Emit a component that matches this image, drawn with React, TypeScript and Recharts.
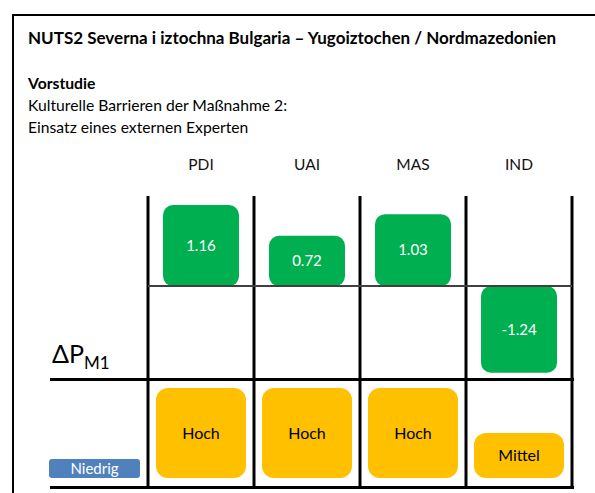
import React from "react";
import { BarChart, Bar, XAxis, YAxis, CartesianGrid, ReferenceLine, LabelList } from "recharts";

const dimensions = ["PDI", "UAI", "MAS", "IND"];
const deltaValues = [1.16, 0.72, 1.03, -1.24];
const barrierLabels = ["Hoch", "Hoch", "Hoch", "Mittel"];
const levelScore: Record<string, number> = { Niedrig: 1, Mittel: 2, Hoch: 4 };

const deltaData = dimensions.map((name, i) => ({ name, value: deltaValues[i] }));
const barrierData = dimensions.map((name, i) => ({
	name,
	level: levelScore[barrierLabels[i]],
	label: barrierLabels[i],
}));

const font = "Lato, 'Open Sans', sans-serif";
const green = "#00B050";
const orange = "#FFC000";

// vertical table lines sit on the band edges, not on the tick centres
const bandEdges = ({ offset }: any) => [0, 1, 2, 3, 4].map((i) => offset.left + (i * offset.width) / 4);

const line = (top: number, left: number, width: number, height: number, color = "#000") => (
	<div style={{ position: "absolute", top, left, width, height, background: color }} />
);

export default function App() {
	return (
		<div style={{ position: "absolute", left: 0, top: 0, width: 595, height: 493, background: "#fff", overflow: "hidden", fontFamily: font, color: "#000" }}>
			<div style={{ position: "absolute", left: 12, top: 14, width: 640, height: 520, borderLeft: "2px solid #000", borderTop: "2px solid #000" }} />
			<div style={{ position: "absolute", left: 28, top: 27, fontSize: 17, fontWeight: 700, lineHeight: "22px", whiteSpace: "nowrap" }}>
				NUTS2 Severna i iztochna Bulgaria – Yugoiztochen / Nordmazedonien
			</div>
			<div style={{ position: "absolute", left: 28, top: 72, fontSize: 15.7, lineHeight: "22px", whiteSpace: "nowrap" }}>
				<div style={{ fontWeight: 700 }}>Vorstudie</div>
				<div>Kulturelle Barrieren der Maßnahme 2:</div>
				<div>Einsatz eines externen Experten</div>
			</div>

			<div style={{ position: "absolute", left: 0, top: 130 }}>
				<BarChart width={595} height={249} data={deltaData} margin={{ top: 26, right: 23, left: 148, bottom: 0 }} barSize={76}>
					<CartesianGrid horizontal={false} stroke="#000" strokeWidth={3} verticalCoordinatesGenerator={bandEdges} />
					<XAxis dataKey="name" orientation="top" height={40} axisLine={false} tickLine={false} tickSize={0} tickMargin={26} tick={{ fontSize: 15.5, fill: "#111", fontFamily: font }} />
					<YAxis hide domain={[-1.33, 1.29]} />
					<ReferenceLine y={0} stroke="#404040" strokeWidth={2} />
					<Bar dataKey="value" fill={green} radius={10} isAnimationActive={false}>
						<LabelList dataKey="value" position="center" fill="#fff" fontSize={15} fontFamily={font} formatter={(v: any) => Number(v).toFixed(2)} />
					</Bar>
				</BarChart>
			</div>

			<div style={{ position: "absolute", left: 0, top: 379 }}>
				<BarChart width={595} height={108} data={barrierData} margin={{ top: 0, right: 23, left: 148, bottom: 0 }} barSize={90}>
					<CartesianGrid horizontal={false} stroke="#000" strokeWidth={3} verticalCoordinatesGenerator={bandEdges} />
					<XAxis dataKey="name" hide />
					<YAxis hide domain={[-0.4, 4.4]} />
					<Bar dataKey="level" fill={orange} radius={12} isAnimationActive={false}>
						<LabelList dataKey="label" position="center" fill="#000" fontSize={16} fontFamily={font} />
					</Bar>
				</BarChart>
			</div>

			{line(378, 50, 524, 3)}
			{line(486, 50, 524, 3)}

			<div style={{ position: "absolute", left: 52, top: 338, fontSize: 25, lineHeight: "30px", whiteSpace: "nowrap" }}>
				ΔP<span style={{ fontSize: 17, position: "relative", top: 6 }}>M1</span>
			</div>
			<div style={{ position: "absolute", left: 49, top: 459, width: 91, height: 19, background: "#4F81BD", borderRadius: 3, color: "#fff", fontSize: 15, lineHeight: "19px", textAlign: "center" }}>
				Niedrig
			</div>
		</div>
	);
}
